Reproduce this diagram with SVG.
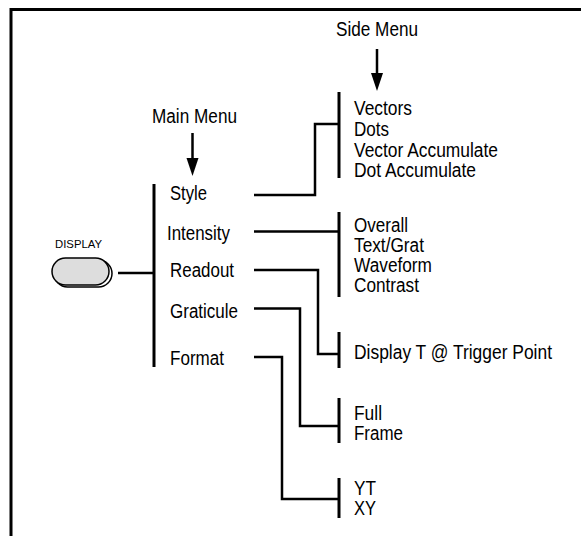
<svg xmlns="http://www.w3.org/2000/svg" width="581" height="536" viewBox="0 0 581 536">
<style>
text{font-family:"Liberation Sans",Arial,sans-serif;font-size:19.5px;fill:#000}
.c{fill:none;stroke:#000;stroke-width:2.5}
.bar{stroke:#000;stroke-width:3}
</style>
<rect x="0" y="0" width="581" height="536" fill="#fff"/>
<path d="M11,540 V9.5 H585" fill="none" stroke="#000" stroke-width="3"/>

<g id="main-menu-label">
<text x="152" y="123" textLength="85" lengthAdjust="spacingAndGlyphs">Main Menu</text>
<line x1="192.5" y1="133" x2="192.5" y2="160" stroke="#000" stroke-width="2.5"/>
<path d="M186.5,158 L198.5,158 L192.5,176 Z" fill="#000"/>
</g>
<g id="side-menu-label">
<text x="336" y="36" textLength="82" lengthAdjust="spacingAndGlyphs">Side Menu</text>
<line x1="377" y1="49" x2="377" y2="75" stroke="#000" stroke-width="2.5"/>
<path d="M371,73 L383,73 L377,91 Z" fill="#000"/>
</g>

<g id="display-button">
<text x="55" y="248" style="font-size:11.5px" textLength="47" lengthAdjust="spacingAndGlyphs">DISPLAY</text>
<rect x="54" y="260" width="58" height="27" rx="13.5" fill="#fff" stroke="#000" stroke-width="1.5"/>
<rect x="52" y="258" width="57" height="27" rx="13.5" fill="#ddd" stroke="#000" stroke-width="1.5"/>
</g>

<g id="main-menu">
<line class="bar" x1="154" y1="184" x2="154" y2="367"/>
<text x="170" y="200" textLength="37" lengthAdjust="spacingAndGlyphs">Style</text>
<text x="167" y="240" textLength="63" lengthAdjust="spacingAndGlyphs">Intensity</text>
<text x="170" y="277" textLength="64" lengthAdjust="spacingAndGlyphs">Readout</text>
<text x="170" y="318" textLength="68" lengthAdjust="spacingAndGlyphs">Graticule</text>
<text x="170" y="365" textLength="54" lengthAdjust="spacingAndGlyphs">Format</text>
</g>

<g id="style-side">
<line class="bar" x1="339" y1="92" x2="339" y2="178"/>
<text x="354" y="115" textLength="58" lengthAdjust="spacingAndGlyphs">Vectors</text>
<text x="354" y="136" textLength="35" lengthAdjust="spacingAndGlyphs">Dots</text>
<text x="354" y="157" textLength="144" lengthAdjust="spacingAndGlyphs">Vector Accumulate</text>
<text x="354" y="177" textLength="122" lengthAdjust="spacingAndGlyphs">Dot Accumulate</text>
</g>
<g id="intensity-side">
<line class="bar" x1="339" y1="212" x2="339" y2="297"/>
<text x="354" y="232" textLength="54" lengthAdjust="spacingAndGlyphs">Overall</text>
<text x="354" y="252" textLength="70" lengthAdjust="spacingAndGlyphs">Text/Grat</text>
<text x="354" y="272" textLength="78" lengthAdjust="spacingAndGlyphs">Waveform</text>
<text x="354" y="292" textLength="65" lengthAdjust="spacingAndGlyphs">Contrast</text>
</g>
<g id="readout-side">
<line class="bar" x1="339" y1="332" x2="339" y2="368"/>
<text x="354" y="359" textLength="198" lengthAdjust="spacingAndGlyphs">Display T @ Trigger Point</text>
</g>
<g id="graticule-side">
<line class="bar" x1="339" y1="398" x2="339" y2="443"/>
<text x="354" y="420" textLength="28" lengthAdjust="spacingAndGlyphs">Full</text>
<text x="354" y="440" textLength="49" lengthAdjust="spacingAndGlyphs">Frame</text>
</g>
<g id="format-side">
<line class="bar" x1="339" y1="478" x2="339" y2="518"/>
<text x="354" y="495" textLength="22" lengthAdjust="spacingAndGlyphs">YT</text>
<text x="354" y="515" textLength="22" lengthAdjust="spacingAndGlyphs">XY</text>
</g>

<g id="connectors">
<path class="c" d="M118,273 H154"/>
<path class="c" d="M254,195 H315 V124 H339"/>
<path class="c" d="M254,231.5 H339"/>
<path class="c" d="M254,270 H318 V354 H339"/>
<path class="c" d="M254,308.5 H300 V426 H339"/>
<path class="c" d="M254,357 H282 V499 H339"/>
</g>
</svg>
